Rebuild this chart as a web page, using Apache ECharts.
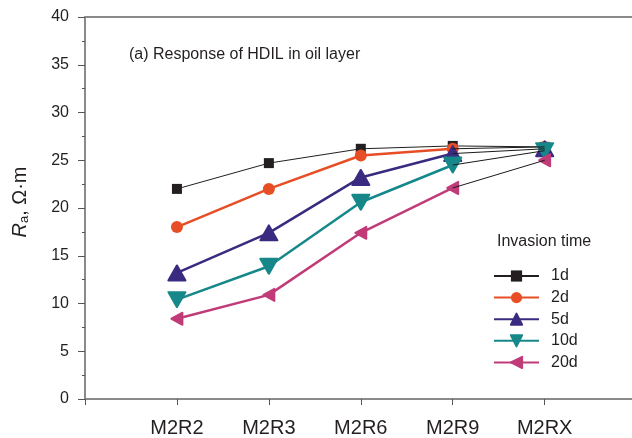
<!DOCTYPE html>
<html>
<head>
<meta charset="utf-8">
<script src="https://cdn.jsdelivr.net/npm/echarts@6/dist/echarts.min.js"></script>
<style>html,body{margin:0;padding:0;background:#fff}#c{width:632px;height:438px}</style>
</head>
<body>
<div id="c"></div>
<script>
const categories = ['M2R2', 'M2R3', 'M2R6', 'M2R9', 'M2RX'];
const yTicks = [0, 5, 10, 15, 20, 25, 30, 35, 40];
const seriesNames = ['1d', '2d', '5d', '10d', '20d'];
const d1 = [22.0, 24.7, 26.2, 26.5, 26.4];
const d2 = [18.0, 22.0, 25.5, 26.2, 26.4];
const d5 = [13.2, 17.4, 23.2, 25.7, 26.2];
const d10 = [10.4, 13.9, 20.6, 24.5, 26.0];
const d20 = [8.4, 10.9, 17.4, 22.1, 25.0];

const allData = [d1, d2, d5, d10, d20];
const colors = ['#231f20', '#e84e25', '#3b2b80', '#17888a', '#c03b78'];
const symbols = ['rect', 'circle', 'triangle', 'path://M0,0 L10,0 L5,9 Z', 'path://M10,0 L10,10 L0,5 Z'];
const symSizes = [10, 12, [17, 15], [17, 15], [11, 12]];
const widths = [1, 2.5, 2.5, 2.5, 2.5];

const FONT = 'Liberation Sans, Arial, sans-serif';

const series = [];
allData.forEach((arr, k) => {
  const pts = [];
  arr.forEach((v, i) => {
    if (i === arr.length - 1 && k > 0) pts.push([i - 0.5, null]);
    pts.push([i, v]);
  });
  series.push({
    name: seriesNames[k],
    type: 'line',
    data: pts,
    connectNulls: false,
    symbol: symbols[k],
    symbolSize: symSizes[k],
    showAllSymbol: true,
    itemStyle: {
      color: colors[k],
      borderColor: colors[k],
      borderWidth: k >= 2 ? 2 : 0,
      borderJoin: 'round'
    },
    lineStyle: { color: colors[k], width: widths[k] },
    z: 2 + k,
    animation: false
  });
});
allData.forEach((arr, k) => {
  if (k === 0) return;
  const n = arr.length;
  series.push({
    name: 'seg' + k,
    type: 'line',
    data: [[n - 2, arr[n - 2]], [n - 1, arr[n - 1]]],
    symbol: 'none',
    lineStyle: { color: '#1a1a1a', width: 1 },
    z: 10,
    silent: true,
    animation: false
  });
});

const chart = echarts.init(document.getElementById('c'), null, { renderer: 'canvas' });
chart.setOption({
  backgroundColor: '#fff',
  animation: false,
  textStyle: { fontFamily: FONT },
  grid: { left: 85, right: 0, top: 17, bottom: 39, containLabel: false },
  title: {
    text: '(a) Response of HDIL in oil layer',
    left: 124, top: 42,
    textStyle: { fontFamily: FONT, fontSize: 16, fontWeight: 'normal', color: '#231f20' }
  },
  graphic: [{
    type: 'text', left: 497, top: 234,
    style: { text: 'Invasion time', fontFamily: FONT, fontSize: 16, fill: '#231f20' }
  }],
  legend: {
    data: seriesNames,
    orient: 'vertical',
    left: 488, top: 263,
    itemWidth: 45, itemHeight: 14,
    itemGap: 5.6,
    textStyle: { fontFamily: FONT, fontSize: 16, color: '#231f20', padding: [0, 0, 0, 7] },
    selectedMode: false
  },
  xAxis: [{
    type: 'value',
    min: -1, max: 4.95, interval: 1,
    axisLine: { show: true, onZero: false, lineStyle: { color: '#8a8a8a', width: 2 } },
    axisTick: { show: true, length: 6, lineStyle: { color: '#555', width: 1 } },
    axisLabel: {
      fontFamily: FONT, fontSize: 20, color: '#231f20', margin: 19,
      showMaxLabel: false,
      formatter: v => (v >= 0 && Number.isInteger(v) && v < categories.length) ? categories[v] : ''
    },
    splitLine: { show: false }
  }, {
    type: 'value', position: 'top',
    min: -1, max: 4.95,
    axisLine: { show: true, onZero: false, lineStyle: { color: '#8a8a8a', width: 2 } },
    axisTick: { show: false }, axisLabel: { show: false }, splitLine: { show: false }
  }],
  yAxis: {
    type: 'value',
    min: yTicks[0], max: yTicks[yTicks.length - 1], interval: 5,
    axisLine: { show: true, onZero: false, lineStyle: { color: '#8a8a8a', width: 2 } },
    axisTick: { show: true, length: 7, lineStyle: { color: '#555', width: 1 } },
    minorTick: { show: true, splitNumber: 2, length: 3, lineStyle: { color: '#555', width: 1 } },
    axisLabel: { fontFamily: FONT, fontSize: 16, color: '#231f20', margin: 16 },
    splitLine: { show: false },
    name: '{r|R}{s|a}{n|, Ω·m}',
    nameLocation: 'middle',
    nameRotate: 90,
    nameGap: 54,
    nameTextStyle: {
      padding: [0, 0, 0, 12],
      rich: {
        r: { fontFamily: FONT, fontSize: 20, fontStyle: 'italic', color: '#231f20' },
        s: { fontFamily: FONT, fontSize: 13, color: '#231f20', verticalAlign: 'bottom', padding: [9, 0, 0, 0] },
        n: { fontFamily: FONT, fontSize: 20, color: '#231f20' }
      }
    }
  },
  series: series
});
</script>
</body>
</html>
